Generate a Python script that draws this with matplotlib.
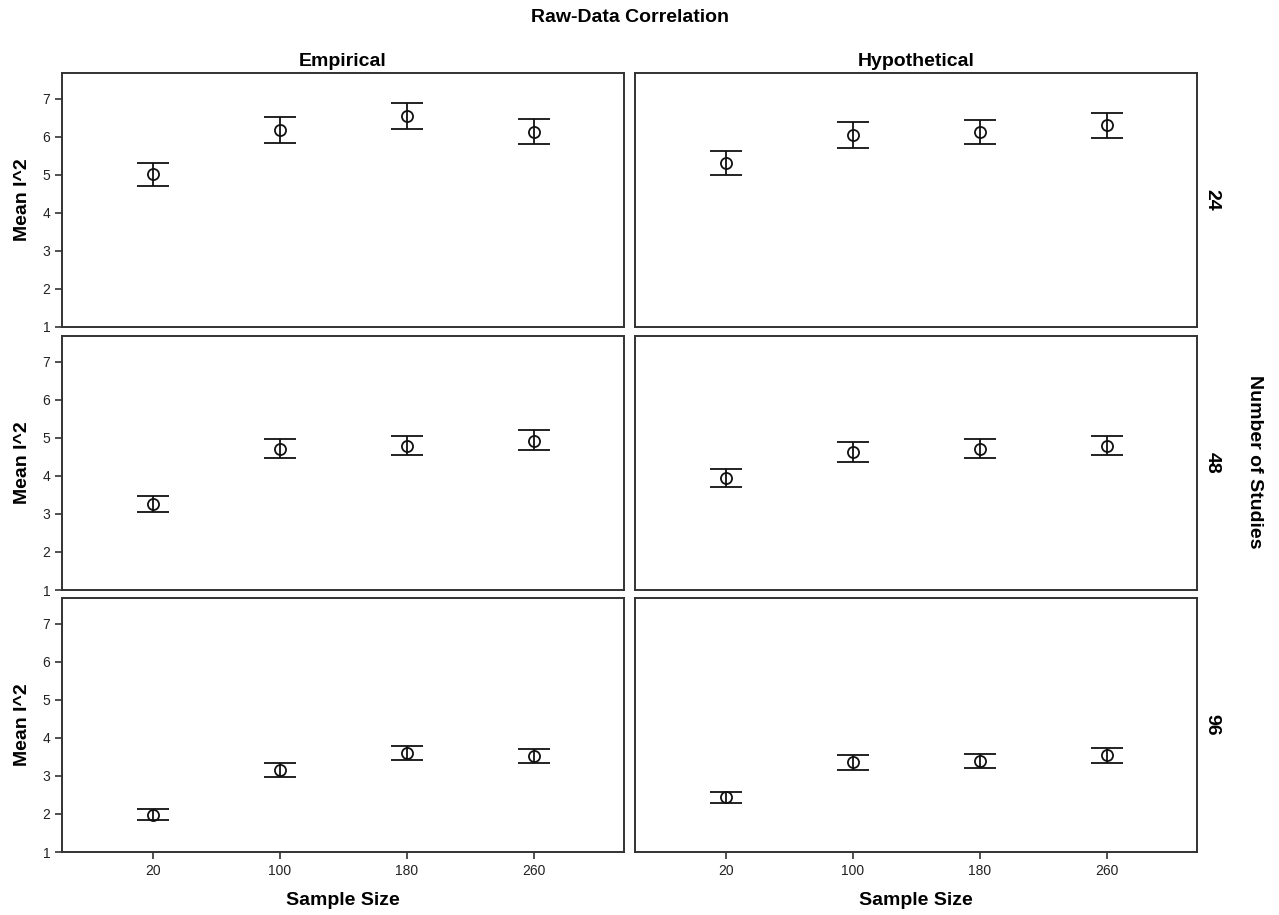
import matplotlib
matplotlib.use("Agg")
import matplotlib.pyplot as plt
from matplotlib import font_manager

# data
sample_sizes = ["20", "100", "180", "260"]
columns = ["Empirical", "Hypothetical"]
studies = ["24", "48", "96"]

# mean I^2 and the lower/upper ends of each error bar, per (studies, column)
mean_emp_24 = [5.02, 6.18, 6.55, 6.14]
low_emp_24 = [4.72, 5.84, 6.21, 5.80]
high_emp_24 = [5.32, 6.51, 6.89, 6.46]

mean_hyp_24 = [5.32, 6.06, 6.13, 6.30]
low_hyp_24 = [5.00, 5.72, 5.80, 5.96]
high_hyp_24 = [5.63, 6.39, 6.45, 6.64]

mean_emp_48 = [3.26, 4.70, 4.80, 4.93]
low_emp_48 = [3.05, 4.46, 4.54, 4.67]
high_emp_48 = [3.47, 4.96, 5.05, 5.20]

mean_hyp_48 = [3.95, 4.62, 4.72, 4.80]
low_hyp_48 = [3.70, 4.37, 4.46, 4.54]
high_hyp_48 = [4.18, 4.88, 4.97, 5.04]

mean_emp_96 = [1.97, 3.15, 3.61, 3.52]
low_emp_96 = [1.83, 2.98, 3.42, 3.33]
high_emp_96 = [2.12, 3.34, 3.80, 3.71]

mean_hyp_96 = [2.44, 3.36, 3.40, 3.54]
low_hyp_96 = [2.28, 3.16, 3.22, 3.35]
high_hyp_96 = [2.59, 3.54, 3.57, 3.73]

panels = [
    [(mean_emp_24, low_emp_24, high_emp_24), (mean_hyp_24, low_hyp_24, high_hyp_24)],
    [(mean_emp_48, low_emp_48, high_emp_48), (mean_hyp_48, low_hyp_48, high_hyp_48)],
    [(mean_emp_96, low_emp_96, high_emp_96), (mean_hyp_96, low_hyp_96, high_hyp_96)],
]

# tick labels look like a narrow sans; use one if it's installed
installed = {f.name for f in font_manager.fontManager.ttflist}
if "Liberation Sans Narrow" in installed:
    tick_font, tick_size = ["Liberation Sans Narrow", "DejaVu Sans"], 11
else:
    tick_font, tick_size = ["Liberation Sans", "DejaVu Sans"], 10
bold = ["Liberation Sans", "DejaVu Sans"]
lab_size = 14

W, H = 1279, 915
fig = plt.figure(figsize=(W / 100, H / 100), dpi=100)

col_left = [62, 635]
col_w = 562
row_top = [73, 336, 598]
row_h = 254

for r in range(3):
    for c in range(2):
        ax = fig.add_axes([col_left[c] / W, 1 - (row_top[r] + row_h) / H, col_w / W, row_h / H])
        mean, low, high = panels[r][c]
        xs = range(len(sample_sizes))
        yerr = [[m - l for m, l in zip(mean, low)], [h - m for m, h in zip(mean, high)]]
        ax.errorbar(xs, mean, yerr=yerr, fmt="o", mfc="none", mec="#111111", ms=8,
                    mew=1.3, ecolor="#111111", elinewidth=1.3, capsize=11.5, capthick=1.8)
        ax.set_xlim(-0.717, 3.709)
        ax.set_ylim(1, 7.68)
        for s in ax.spines.values():
            s.set_linewidth(1.4)
            s.set_color("#333333")
        ax.tick_params(direction="out", length=5, width=1.2, color="#333333")
        if c == 0:
            ax.set_yticks([1, 2, 3, 4, 5, 6, 7])
            ax.set_yticklabels(["1", "2", "3", "4", "5", "6", "7"], fontsize=tick_size,
                               family=tick_font, color="#222222")
            ax.set_ylabel("Mean I^2", fontsize=lab_size, fontweight="bold", family=bold, labelpad=8)
        else:
            ax.set_yticks([])
        if r == 2:
            ax.set_xticks(list(xs))
            ax.set_xticklabels(sample_sizes, fontsize=tick_size, family=tick_font, color="#222222")
            ax.set_xlabel("Sample Size", fontsize=lab_size, fontweight="bold", family=bold, labelpad=10)
        else:
            ax.set_xticks([])
        if r == 0:
            ax.set_title(columns[c], fontsize=lab_size, fontweight="bold", family=bold, pad=5)
        if c == 1:
            ax.text(1.027, 0.5, studies[r], transform=ax.transAxes, rotation=-90,
                    ha="center", va="center", fontsize=lab_size, fontweight="bold", family=bold)

fig.text(1254 / W, 1 - 462 / H, "Number of Studies", rotation=-90, ha="center", va="center",
         fontsize=lab_size, fontweight="bold", family=bold)
fig.text(630 / W, 1 - 17 / H, "Raw-Data Correlation", ha="center", va="center",
         fontsize=lab_size, fontweight="bold", family=bold)

fig.savefig("out.png", dpi=100, facecolor="white")
